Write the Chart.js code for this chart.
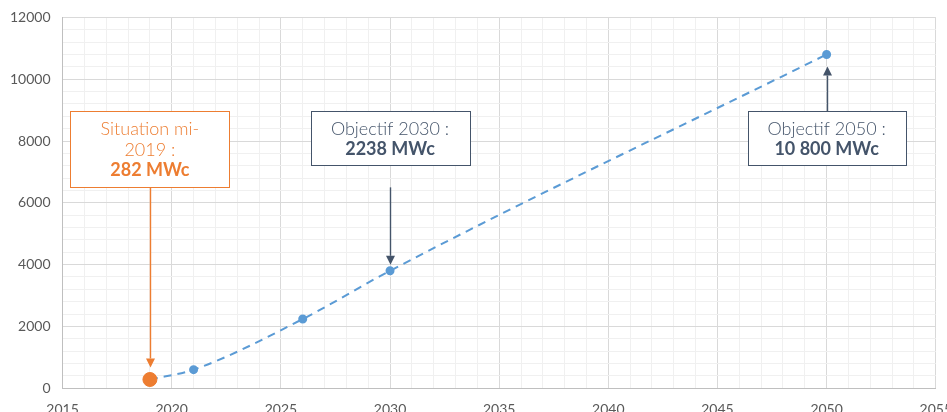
<!DOCTYPE html>
<html>
<head>
<meta charset="utf-8">
<script src="https://cdn.jsdelivr.net/npm/chart.js@4/dist/chart.umd.min.js"></script>
<style>
  html, body { margin: 0; padding: 0; background: #fff; overflow: hidden; }
  #wrap { width: 965px; height: 434px; margin-top: -3px; }
</style>
</head>
<body>
<div id="wrap"><canvas id="c" width="965" height="434"></canvas></div>
<script>
// Trajectoire de puissance installée (MWc)
const years = [2019, 2021, 2026, 2030, 2050];
const capacityMWc = [282, 600, 2238, 3800, 10800];

// Point de situation actuelle
const situationYear = [2019];
const situationMWc = [282];

// Axes
const xMin = 2015, xMax = 2055, xMajor = 5;
const yMin = 0, yMax = 12000, yMajor = 2000, yMinor = 400;

// Encadrés de commentaire
const calloutTitles = [['Situation mi-', '2019 :'], ['Objectif 2030 :'], ['Objectif 2050 :']];
const calloutValues = ['282 MWc', '2238 MWc', '10 800 MWc'];
const calloutYears = [2019, 2030, 2050];
const calloutTargets = [282, 3800, 10800];

const ORANGE = '#ED7D31';
const BLUE = '#5B9BD5';
const SLATE = '#44546A';
const FONT = 'Lato, "DejaVu Sans", sans-serif';

const calloutStyle = [
  { color: ORANGE, boxTop: 8960, w: 159, h: 76, dir: 'down', gap: 12 },
  { color: SLATE, boxTop: 8960, w: 159, h: 54, dir: 'down', gap: 6, from: 6500 },
  { color: SLATE, boxTop: 8960, w: 158, h: 54, dir: 'up', gap: 12 }
];

const calloutPlugin = {
  id: 'callouts',
  afterDatasetsDraw(chart) {
    const { ctx, scales: { x, y } } = chart;
    ctx.save();
    calloutTitles.forEach((titles, i) => {
      const s = calloutStyle[i];
      const cx = x.getPixelForValue(calloutYears[i]);
      const top = Math.round(y.getPixelForValue(s.boxTop)) + 0.5;
      const left = Math.round(cx - s.w / 2) + 0.5;
      const py = y.getPixelForValue(calloutTargets[i]);

      // cadre
      ctx.fillStyle = '#fff';
      ctx.fillRect(left, top, s.w, s.h);
      ctx.strokeStyle = s.color;
      ctx.lineWidth = 1;
      ctx.strokeRect(left, top, s.w, s.h);

      // texte
      ctx.fillStyle = s.color;
      ctx.textAlign = 'center';
      ctx.textBaseline = 'middle';
      ctx.font = '300 18px ' + FONT;
      let ty = top + 18;
      titles.forEach(t => { ctx.fillText(t, cx, ty); ty += 21; });
      ctx.font = 'bold 18px ' + FONT;
      ctx.fillText(calloutValues[i], cx, ty - 1);

      // flèche
      const ax = Math.round(cx) + 0.5;
      let y0, tip;
      if (s.dir === 'down') {
        y0 = s.from !== undefined ? y.getPixelForValue(s.from) : top + s.h;
        tip = py - s.gap;
      } else {
        y0 = top;
        tip = py + s.gap;
      }
      const headLen = 9, headHalf = 4.5;
      const sign = s.dir === 'down' ? 1 : -1;
      ctx.lineWidth = 1.4;
      ctx.beginPath();
      ctx.moveTo(ax, y0);
      ctx.lineTo(ax, tip - sign * headLen);
      ctx.stroke();
      ctx.beginPath();
      ctx.moveTo(ax, tip);
      ctx.lineTo(ax - headHalf, tip - sign * headLen);
      ctx.lineTo(ax + headHalf, tip - sign * headLen);
      ctx.closePath();
      ctx.fill();
    });
    ctx.restore();
  }
};

new Chart(document.getElementById('c'), {
  type: 'scatter',
  data: {
    datasets: [
      {
        label: 'Situation',
        data: situationYear.map((yr, i) => ({ x: yr, y: situationMWc[i] })),
        backgroundColor: ORANGE,
        borderColor: ORANGE,
        pointRadius: 7,
        order: 0
      },
      {
        label: 'Trajectoire',
        type: 'line',
        data: years.map((yr, i) => ({ x: yr, y: capacityMWc[i] })),
        borderColor: BLUE,
        backgroundColor: BLUE,
        borderWidth: 2,
        borderDash: [8, 6],
        cubicInterpolationMode: 'monotone',
        pointRadius: [0, 3.5, 3.5, 3.5, 3.5],
        showLine: true,
        fill: false,
        order: 1
      }
    ]
  },
  options: {
    responsive: false,
    animation: false,
    layout: { padding: { top: 3, left: -2, right: 0, bottom: 0 } },
    plugins: { legend: { display: false }, tooltip: { enabled: false } },
    scales: {
      x: {
        type: 'linear',
        min: xMin, max: xMax,
        ticks: {
          stepSize: 1,
          autoSkip: false,
          maxRotation: 0,
          padding: 13,
          color: '#595959',
          font: { family: FONT, size: 14 },
          callback: v => (v % xMajor === 0 ? String(v) : '')
        },
        grid: {
          drawTicks: false,
          color: ctx => (ctx.tick && ctx.tick.value % xMajor === 0 ? '#d9d9d9' : '#f0f0f0'),
          lineWidth: 1
        },
        border: { color: '#bfbfbf' }
      },
      y: {
        min: yMin, max: yMax,
        ticks: {
          stepSize: yMinor,
          autoSkip: false,
          padding: 12,
          color: '#595959',
          font: { family: FONT, size: 14 },
          callback: v => (v % yMajor === 0 ? String(v) : '')
        },
        grid: {
          drawTicks: false,
          color: ctx => (ctx.tick && ctx.tick.value % yMajor === 0 ? '#d9d9d9' : '#f0f0f0'),
          lineWidth: 1
        },
        border: { color: '#bfbfbf' }
      }
    }
  },
  plugins: [calloutPlugin]
});
</script>
</body>
</html>
